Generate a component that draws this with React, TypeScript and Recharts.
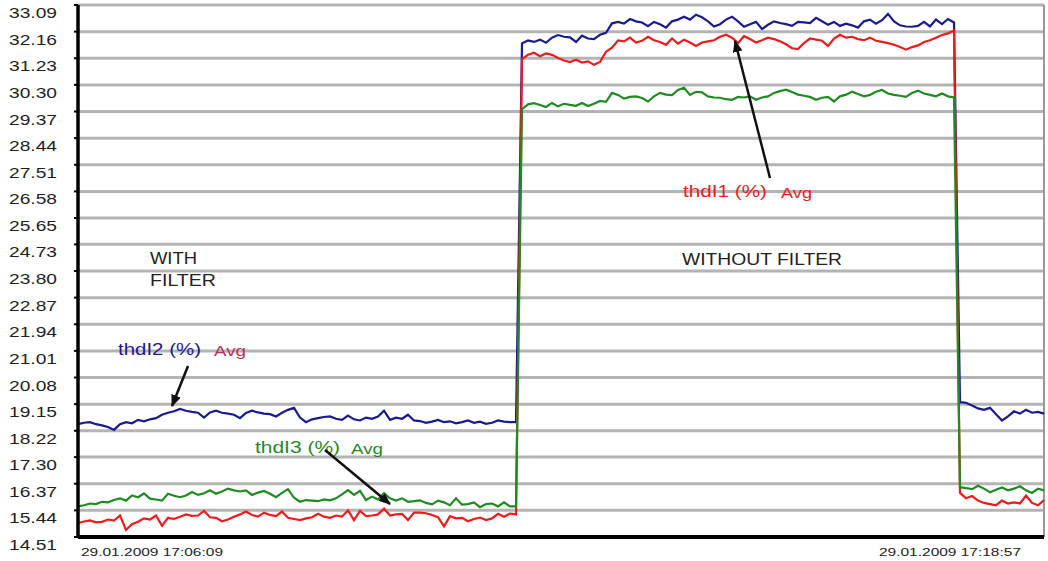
import React from 'react'
import { LineChart, Line, XAxis, YAxis, CartesianGrid, ReferenceLine } from 'recharts'

// y axis tick labels (as printed)
const yTickLabels = [
  '14.51', '15.44', '16.37', '17.30', '18.22', '19.15', '20.08', '21.01', '21.94', '22.87',
  '23.80', '24.73', '25.65', '26.58', '27.51', '28.44', '29.37', '30.30', '31.23', '32.16', '33.09',
]
const yTicks = yTickLabels.map(Number)

// x axis: sample index of the two printed timestamps
const xTicks = [0, 133]
const xTickLabels = ['29.01.2009 17:06:09', '29.01.2009 17:18:57']

// thdI2 (%) Avg - blue
const thdI2WithFilter = [
  18.45, 18.50, 18.52, 18.45, 18.41, 18.35, 18.25, 18.45, 18.52, 18.48,
  18.60, 18.55, 18.62, 18.66, 18.78, 18.85, 18.90, 18.98, 18.92, 18.88,
  18.85, 18.68, 18.86, 18.92, 18.85, 18.82, 18.78, 18.66, 18.84, 18.92,
  18.86, 18.82, 18.80, 18.72, 18.85, 18.95, 19.02, 18.68, 18.52, 18.62,
  18.66, 18.70, 18.72, 18.64, 18.60, 18.75, 18.62, 18.58, 18.68, 18.64,
  18.72, 18.92, 18.60, 18.68, 18.64, 18.78, 18.58, 18.56, 18.50, 18.54,
  18.60, 18.52, 18.55, 18.48, 18.52, 18.58, 18.50, 18.54, 18.46, 18.50,
  18.58, 18.54, 18.52, 18.52,
]
const thdI2WithoutFilter = [
  31.75, 31.85, 31.80, 31.88, 31.77, 31.95,
  32.04, 31.98, 31.96, 31.80, 32.02, 31.92, 31.90, 32.05, 32.12, 32.45,
  32.50, 32.44, 32.60, 32.52, 32.48, 32.35, 32.50, 32.42, 32.30, 32.52,
  32.58, 32.68, 32.58, 32.75, 32.66, 32.52, 32.34, 32.42, 32.58, 32.68,
  32.52, 32.33, 32.42, 32.50, 32.25, 32.40, 32.52, 32.46, 32.42, 32.36,
  32.50, 32.48, 32.46, 32.64, 32.52, 32.40, 32.50, 32.36, 32.44, 32.38,
  32.30, 32.52, 32.58, 32.44, 32.56, 32.78, 32.52, 32.38, 32.34, 32.33,
  32.36, 32.50, 32.34, 32.58, 32.42, 32.60, 32.48,
]
const thdI2After = [
  19.22, 19.20, 19.10, 19.00, 18.95,
  19.02, 18.80, 18.58, 18.72, 18.90, 18.82, 18.95, 18.85, 18.88, 18.82,
]

// thdI1 (%) Avg - red
const thdI1WithFilter = [
  15.00, 15.05, 15.09, 15.02, 15.04, 15.12, 15.08, 15.26, 14.76, 14.96,
  15.04, 15.16, 15.12, 15.26, 14.90, 15.18, 15.14, 15.22, 15.30, 15.25,
  15.26, 15.42, 15.20, 15.18, 15.06, 15.12, 15.22, 15.30, 15.40, 15.28,
  15.22, 15.36, 15.28, 15.24, 15.40, 15.18, 15.14, 15.10, 15.16, 15.20,
  15.32, 15.22, 15.18, 15.26, 15.22, 15.44, 15.10, 15.42, 15.24, 15.26,
  15.30, 15.50, 15.26, 15.30, 15.32, 15.10, 15.36, 15.36, 15.34, 15.28,
  15.20, 14.88, 15.24, 15.16, 15.18, 15.06, 15.14, 15.19, 15.10, 15.16,
  15.32, 15.22, 15.33, 15.30,
]
const thdI1WithoutFilter = [
  31.20, 31.35, 31.42, 31.30, 31.40, 31.35,
  31.24, 31.15, 31.10, 31.18, 31.08, 31.12, 31.00, 31.10, 31.46, 31.60,
  31.85, 31.82, 31.95, 31.78, 31.84, 31.98, 31.86, 31.80, 31.70, 31.92,
  31.74, 31.88, 31.78, 31.66, 31.78, 31.82, 31.86, 31.98, 32.05, 31.95,
  31.76, 32.00, 31.90, 31.78, 31.86, 31.95, 31.90, 31.82, 31.72, 31.58,
  31.55, 31.76, 31.92, 31.88, 31.84, 31.66, 31.92, 32.05, 31.95, 31.98,
  31.90, 31.86, 31.95, 31.84, 31.80, 31.76, 31.70, 31.62, 31.53, 31.62,
  31.68, 31.80, 31.86, 31.95, 32.04, 32.10, 32.20,
]
const thdI1After = [
  16.05, 15.86, 15.94, 15.78, 15.70,
  15.66, 15.62, 15.78, 15.68, 15.72, 15.68, 15.96, 15.70, 15.62, 15.80,
]

// thdI3 (%) Avg - green
const thdI3WithFilter = [
  15.58, 15.62, 15.68, 15.66, 15.74, 15.72, 15.80, 15.86, 15.78, 15.96,
  15.90, 16.03, 15.85, 15.82, 15.78, 16.02, 15.95, 15.90, 15.96, 16.08,
  15.98, 16.04, 16.14, 16.02, 16.10, 16.20, 16.14, 16.10, 16.14, 15.98,
  16.06, 16.12, 16.02, 15.90, 16.05, 16.18, 15.88, 15.74, 15.80, 15.78,
  15.76, 15.82, 15.79, 15.86, 16.00, 16.15, 15.98, 16.12, 15.80, 15.92,
  15.82, 16.04, 15.86, 15.78, 15.86, 15.74, 15.76, 15.79, 15.70, 15.65,
  15.78, 15.72, 15.62, 15.86, 15.64, 15.66, 15.72, 15.55, 15.66, 15.68,
  15.58, 15.72, 15.58, 15.58,
]
const thdI3WithoutFilter = [
  29.45, 29.62, 29.66, 29.60, 29.53, 29.67,
  29.55, 29.64, 29.60, 29.57, 29.67, 29.56, 29.64, 29.74, 29.71, 30.02,
  29.95, 29.82, 29.88, 29.90, 29.84, 29.72, 29.90, 30.02, 29.96, 29.94,
  30.12, 30.20, 29.95, 30.06, 30.04, 29.90, 29.86, 29.85, 29.80, 29.78,
  29.88, 29.86, 29.90, 29.78, 29.86, 29.90, 30.02, 30.08, 30.13, 30.05,
  29.96, 29.92, 29.88, 29.78, 29.85, 29.88, 29.72, 29.90, 29.96, 30.06,
  29.98, 29.90, 29.95, 30.06, 30.12, 30.00, 29.95, 29.92, 29.88, 30.02,
  30.10, 30.00, 29.95, 29.90, 30.00, 29.90, 29.86,
]
const thdI3After = [
  16.25, 16.22, 16.18, 16.30, 16.20,
  16.07, 16.16, 16.24, 16.14, 16.20, 16.28, 16.14, 16.05, 16.20, 16.14,
]

const thdI1 = [...thdI1WithFilter, ...thdI1WithoutFilter, ...thdI1After]
const thdI2 = [...thdI2WithFilter, ...thdI2WithoutFilter, ...thdI2After]
const thdI3 = [...thdI3WithFilter, ...thdI3WithoutFilter, ...thdI3After]

const chartData = thdI1.map((v, i) => ({ i, thdI1: v, thdI2: thdI2[i], thdI3: thdI3[i] }))
const lastIndex = chartData.length - 1

const FONT = '"Liberation Sans", Arial, sans-serif'
const BLUE = '#1a1a8e'
const RED = '#f01a1a'
const GREEN = '#1f8a1f'

function YTick({ x, y, payload }: any) {
  return (
    <text x={x} y={y + 13} textAnchor="end" fontSize={15} fill="#1e1e1e" fontFamily={FONT}
      textLength={48} lengthAdjust="spacingAndGlyphs">
      {Number(payload.value).toFixed(2)}
    </text>
  )
}

function XTick({ x, y, payload }: any) {
  const label = xTickLabels[xTicks.indexOf(payload.value)]
  return (
    <text x={x + 3} y={y + 19} textAnchor="start" fontSize={11} fill="#222" fontFamily={FONT}
      textLength={142} lengthAdjust="spacingAndGlyphs">
      {label}
    </text>
  )
}

// stretched text, like the scanned original
function Stretch({ x, y, w, size, fill, children }: any) {
  return (
    <text x={x} y={y} fontSize={size} fill={fill} textLength={w} lengthAdjust="spacingAndGlyphs">
      {children}
    </text>
  )
}

function Annotations() {
  return (
    <svg width={1048} height={561} style={{ position: 'absolute', left: 0, top: 0, pointerEvents: 'none' }}>
      <defs>
        <marker id="head" markerWidth="12" markerHeight="10" refX="11" refY="5" orient="auto" markerUnits="userSpaceOnUse">
          <path d="M0,0 L12,5 L0,10 z" fill="#111" />
        </marker>
      </defs>
      <g fontFamily={FONT}>
        <Stretch x={150} y={264} w={47} size={17} fill="#222">WITH</Stretch>
        <Stretch x={150} y={286} w={66} size={17} fill="#222">FILTER</Stretch>
        <Stretch x={682} y={265} w={160} size={17} fill="#222">WITHOUT FILTER</Stretch>

        <Stretch x={683} y={197} w={84} size={16} fill={RED}>thdI1 (%)</Stretch>
        <Stretch x={781} y={198} w={31} size={15} fill={RED}>Avg</Stretch>

        <Stretch x={118} y={355} w={83} size={16} fill={BLUE}>thdI2 (%)</Stretch>
        <Stretch x={214} y={356} w={32} size={15} fill="#b8305a">Avg</Stretch>

        <Stretch x={255} y={453} w={85} size={16} fill={GREEN}>thdI3 (%)</Stretch>
        <Stretch x={351} y={454} w={32} size={15} fill={GREEN}>Avg</Stretch>
      </g>
      <g stroke="#111" strokeWidth={2.5}>
        <line x1={188} y1={366} x2={172} y2={406} markerEnd="url(#head)" />
        <line x1={325} y1={450} x2={390} y2={504} markerEnd="url(#head)" />
        <line x1={770} y1={178} x2={735} y2={41} markerEnd="url(#head)" />
      </g>
    </svg>
  )
}

export default function App() {
  return (
    <div style={{ position: 'absolute', left: 0, top: 0, width: 1048, height: 561, background: '#fff' }}>
      <LineChart width={1048} height={561} data={chartData} margin={{ top: 5, right: 4, bottom: 0, left: 0 }}>
        <CartesianGrid vertical={false} stroke="#b4b4b4" strokeWidth={3} />
        <XAxis
          dataKey="i"
          type="number"
          domain={[0, lastIndex]}
          ticks={xTicks}
          tick={<XTick />}
          tickLine={false}
          tickSize={0}
          tickMargin={0}
          height={24}
          axisLine={{ stroke: '#000', strokeWidth: 4 }}
          interval={0}
        />
        <YAxis
          type="number"
          domain={[14.51, 33.09]}
          ticks={yTicks}
          tick={<YTick />}
          width={78}
          tickSize={4}
          tickMargin={17}
          tickLine={{ stroke: '#000', strokeWidth: 2 }}
          axisLine={{ stroke: '#000', strokeWidth: 3.5 }}
          interval={0}
          allowDataOverflow
        />
        <ReferenceLine x={lastIndex} stroke="#999" strokeWidth={2} />
        <Line type="linear" dataKey="thdI2" stroke={BLUE} strokeWidth={2.2} dot={false} isAnimationActive={false} />
        <Line type="linear" dataKey="thdI1" stroke={RED} strokeWidth={2.2} dot={false} isAnimationActive={false} />
        <Line type="linear" dataKey="thdI3" stroke={GREEN} strokeWidth={2.2} dot={false} isAnimationActive={false} />
      </LineChart>
      <Annotations />
    </div>
  )
}
